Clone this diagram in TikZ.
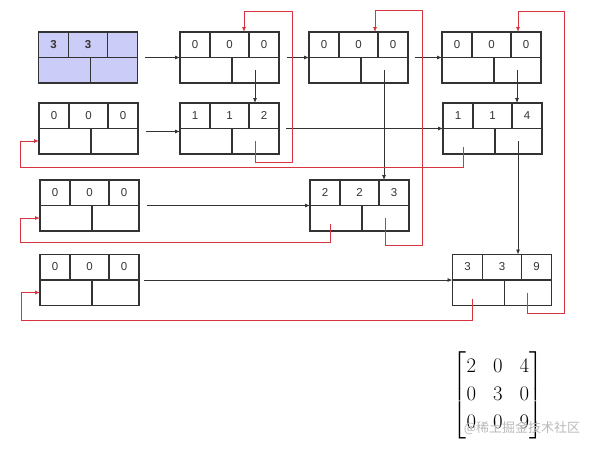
\documentclass[tikz,border=0pt]{standalone}
\usepackage{fontspec}
\usepackage{amsmath}
\setmainfont{Liberation Sans}
\newfontfamily\cjk{Noto Sans CJK SC}
\usetikzlibrary{arrows.meta,calc}
\definecolor{HeadBlue}{HTML}{CCCCF8}
\definecolor{LinkRed}{HTML}{D8343F}
\definecolor{BoxLine}{HTML}{333333}

% one node of the cross-linked list: row, col, value on top; right and down pointers below
\newcommand{\olnode}[6][]{%
  \node[olbox,#1] (#2) at (#3) {};
  \draw[cellline] (#2.west) -- (#2.east)
    ($(#2.north west)+(30,0)$) -- ($(#2.west)+(30,0)$)
    ($(#2.north west)+(69,0)$) -- ($(#2.west)+(69,0)$)
    ($(#2.south west)+(52,0)$) -- ($(#2.west)+(52,0)$);
  \node[celltext] (#2a) at ($(#2.north west)+(15,12.5)$) {#4};
  \node[celltext] (#2b) at ($(#2.north west)+(49.5,12.5)$) {#5};
  \node[celltext] (#2c) at ($(#2.north west)+(84,12.5)$) {#6};
  \coordinate (#2-rt) at ($(#2.north west)+(20,44)$);
  \coordinate (#2-dn) at ($(#2.north west)+(75,38)$);
}

\begin{document}
\begin{tikzpicture}[
  x=1pt,y=-1pt,
  olbox/.style={draw=BoxLine,line width=1.2pt,minimum width=99pt,minimum height=51pt,inner sep=0pt,outer sep=0pt},
  cellline/.style={draw=BoxLine,line width=1.2pt},
  celltext/.style={font=\fontsize{11.5}{13}\selectfont,text=BoxLine,inner sep=0pt},
  link/.style={-{Latex[length=5pt,width=4pt]},line width=0.8pt,BoxLine},
  backlink/.style={-{Latex[length=5pt,width=4pt]},line width=0.8pt,LinkRed}
]
\useasboundingbox (0,0) rectangle (591,448);

% head, column heads, row heads
\olnode[fill=HeadBlue]{head}{88,57.5}{\bfseries 3}{\bfseries 3}{}
\olnode{c1}{229.5,57.5}{0}{0}{0}
\olnode{c2}{358.5,57.5}{0}{0}{0}
\olnode{c3}{491.5,57.5}{0}{0}{0}
\olnode{r1}{88.5,128.5}{0}{0}{0}
\olnode{r2}{89.5,205.5}{0}{0}{0}
\olnode{r3}{89.5,280}{0}{0}{0}

% non-zero entries
\olnode{n112}{229.5,128.5}{1}{1}{2}
\olnode{n114}{492.5,128.5}{1}{1}{4}
\olnode{n223}{359.5,205.5}{2}{2}{3}
\olnode{n339}{502,280}{3}{3}{9}

% right links
\draw[link,shorten <=7pt] (head.east) -- (c1.west);
\draw[link,shorten <=8pt] (c1.east) -- (c2.west);
\draw[link,shorten <=7pt] (c2.east) -- (c3.west);
\draw[link,shorten <=8pt] ([yshift=-3pt]r1.east) -- ([yshift=-3pt]n112.west);
\draw[link,shorten <=7pt] (n112.east) -- (n112.east -| n114.west);
\draw[link,shorten <=8pt] (r2.east) -- (r2.east -| n223.west);
\draw[link,shorten <=5pt] (r3.east) -- (r3.east -| n339.west);

% down links
\draw[link] (c1-dn) -- (c1-dn |- n112.north);
\draw[link] (c2-dn) -- (c2-dn |- n223.north);
\draw[link] (c3-dn) -- (c3-dn |- n114.north);
\draw[link] (n114-dn) -- (n114-dn |- n339.north);

% links back to the heads
\draw[backlink] (n112-dn) -- ++(0,21) -| ($(c1.north)+(62.5,-21)$) -| ([xshift=14.5pt]c1.north);
\draw[backlink] (n223-dn) -- ++(0,27) -| ($(c2.north)+(63.5,-22)$) -| ([xshift=16.5pt]c2.north);
\draw[backlink] (n339-dn) -- ++(0,21) -| ($(c3.north)+(72.5,-21)$) -| ([xshift=26.5pt]c3.north);
\draw[backlink] (n114-rt) -- ++(0,20) -| ([xshift=-19pt,yshift=-12.5pt]r1.west) -- ([yshift=-12.5pt]r1.west);
\draw[backlink] (n223-rt) -- ++(0,18) -| ([xshift=-20pt,yshift=-12.5pt]r2.west) -- ([yshift=-12.5pt]r2.west);
\draw[backlink] (n339-rt) -- ++(0,22) -| ([xshift=-19pt,yshift=-12.5pt]r3.west) -- ([yshift=-12.5pt]r3.west);

% the matrix
\node[font=\fontsize{21}{28}\selectfont,inner sep=0pt] (mat) at (498,395)
  {\setlength{\arraycolsep}{8.5pt}$\begin{bmatrix}2&0&4\\0&3&0\\0&0&9\end{bmatrix}$};
\node[font=\cjk\fontsize{13}{15}\selectfont,text=gray!55,inner sep=0pt] (wm) at (522,428) {@稀土掘金技术社区};
\end{tikzpicture}
\end{document}
